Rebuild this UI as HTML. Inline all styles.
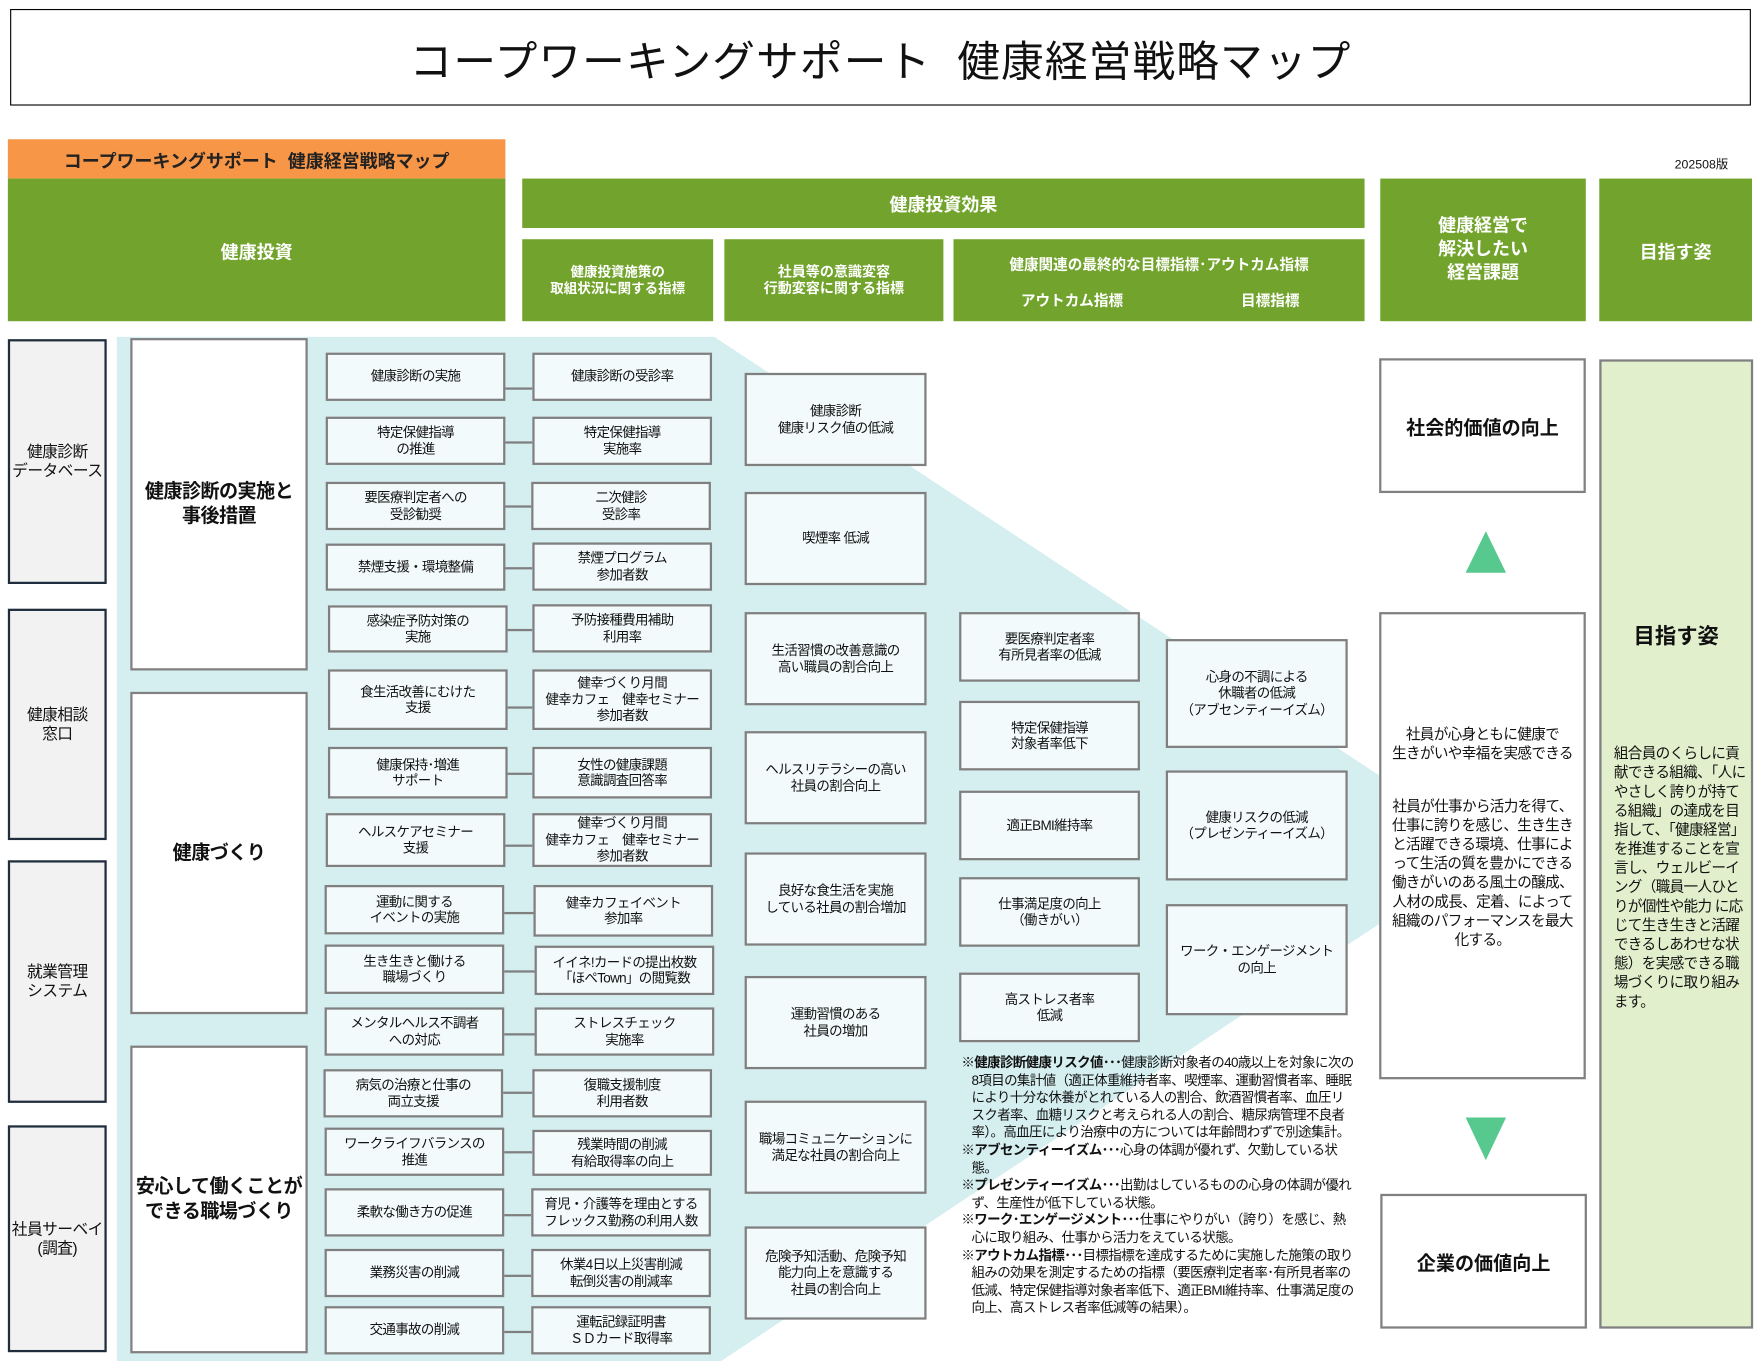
<!DOCTYPE html>
<html><head><meta charset="utf-8">
<style>
html,body{margin:0;padding:0;background:#fff;overflow:hidden;width:1761px;height:1361px}
#w{position:absolute;left:0;top:0;width:1568px;height:1212px;transform:scale(1.12309);transform-origin:0 0;font-family:"Liberation Sans","Noto Sans CJK JP",sans-serif;color:#111}
.a{position:absolute;box-sizing:border-box;display:flex;align-items:center;justify-content:center;text-align:center}
.g{background:#72A42D;color:#fff;font-weight:bold}
.sb{background:#F2F2F2;border:2px solid #1F2D3D;font-size:14px;line-height:17px;letter-spacing:-0.5px}
.wb{background:#fff;border:2px solid #808080;font-weight:bold;font-size:17px;line-height:22px;letter-spacing:-0.5px}
.r{background:#F3FAFB;border:2px solid #7F7F7F;font-size:12px;line-height:14.5px;letter-spacing:-0.6px}
.ln{position:absolute;height:2px;background:#7F7F7F}
</style></head><body><div id="w">
<svg style="position:absolute;left:0;top:0" width="1568" height="1212"><polygon points="104,300 636,300 1235,695 1235,818 642,1212 104,1212" fill="#D5EEF0"/>
<polygon points="1323,473 1341,510 1305,510" fill="#57C88E"/><polygon points="1305,995 1341,995 1323,1033" fill="#57C88E"/></svg>

<div class="a" style="left:9px;top:8px;width:1550px;height:86px;border:1px solid #000;font-size:38px;letter-spacing:1px">コープワーキングサポート&nbsp;&nbsp;健康経営戦略マップ</div>
<div class="a" style="left:7px;top:124px;width:443px;height:35px;background:#F79646;font-weight:bold;font-size:16px;color:#222">コープワーキングサポート&nbsp;&nbsp;健康経営戦略マップ</div>
<div class="a" style="left:1480px;top:138px;width:70px;height:16px;font-size:11px">202508版</div>
<div class="a g" style="left:7px;top:159px;width:443px;height:127px;font-size:16px">健康投資</div>
<div class="a g" style="left:465px;top:159px;width:750px;height:44px;font-size:16px">健康投資効果</div>
<div class="a g" style="left:465px;top:213px;width:170px;height:73px;font-size:12px;line-height:15px">健康投資施策の<br>取組状況に関する指標</div>
<div class="a g" style="left:645px;top:213px;width:195px;height:73px;font-size:12.5px;line-height:15px">社員等の意識変容<br>行動変容に関する指標</div>
<div class="a g" style="left:849px;top:213px;width:366px;height:73px;font-size:13px;display:block">
<div style="position:absolute;left:0;right:0;top:12px">健康関連の最終的な目標指標･アウトカム指標</div>
<div style="position:absolute;left:60px;top:44px">アウトカム指標</div>
<div style="position:absolute;left:256px;top:44px">目標指標</div></div>
<div class="a g" style="left:1229px;top:159px;width:183px;height:127px;font-size:16px;line-height:21px">健康経営で<br>解決したい<br>経営課題</div>
<div class="a g" style="left:1424px;top:159px;width:136px;height:127px;font-size:16px">目指す姿</div>

<div class="a sb" style="left:7px;top:302px;width:88px;height:218px">健康診断<br>データベース</div>
<div class="a sb" style="left:7px;top:542px;width:88px;height:206px">健康相談<br>窓口</div>
<div class="a sb" style="left:7px;top:766px;width:88px;height:216px">就業管理<br>システム</div>
<div class="a sb" style="left:7px;top:1002px;width:88px;height:202px">社員サーベイ<br>(調査)</div>

<div class="a wb" style="left:116px;top:301px;width:158px;height:296px">健康診断の実施と<br>事後措置</div>
<div class="a wb" style="left:116px;top:616px;width:158px;height:287px">健康づくり</div>
<div class="a wb" style="left:116px;top:931px;width:158px;height:274px">安心して働くことが<br>できる職場づくり</div>

<div class="a r" style="left:290px;top:314px;width:160px;height:43px">健康診断の実施</div><div class="ln" style="left:450px;top:345px;width:24px"></div><div class="a r" style="left:474px;top:314px;width:160px;height:43px">健康診断の受診率</div>
<div class="a r" style="left:290px;top:371px;width:160px;height:43px">特定保健指導<br>の推進</div><div class="ln" style="left:450px;top:393px;width:24px"></div><div class="a r" style="left:474px;top:371px;width:160px;height:43px">特定保健指導<br>実施率</div>
<div class="a r" style="left:290px;top:429px;width:160px;height:43px">要医療判定者への<br>受診勧奨</div><div class="ln" style="left:450px;top:450px;width:24px"></div><div class="a r" style="left:473px;top:429px;width:160px;height:43px">二次健診<br>受診率</div>
<div class="a r" style="left:290px;top:484px;width:160px;height:42px">禁煙支援・環境整備</div><div class="ln" style="left:450px;top:505px;width:24px"></div><div class="a r" style="left:474px;top:483px;width:160px;height:43px">禁煙プログラム<br>参加者数</div>
<div class="a r" style="left:292px;top:539px;width:160px;height:42px">感染症予防対策の<br>実施</div><div class="ln" style="left:452px;top:560px;width:22px"></div><div class="a r" style="left:474px;top:538px;width:160px;height:43px">予防接種費用補助<br>利用率</div>
<div class="a r" style="left:292px;top:596px;width:160px;height:54px">食生活改善にむけた<br>支援</div><div class="ln" style="left:452px;top:629px;width:22px"></div><div class="a r" style="left:474px;top:596px;width:160px;height:54px">健幸づくり月間<br>健幸カフェ　健幸セミナー<br>参加者数</div>
<div class="a r" style="left:292px;top:665px;width:160px;height:46px">健康保持･増進<br>サポート</div><div class="ln" style="left:452px;top:688px;width:22px"></div><div class="a r" style="left:474px;top:665px;width:160px;height:46px">女性の健康課題<br>意識調査回答率</div>
<div class="a r" style="left:290px;top:724px;width:160px;height:48px">ヘルスケアセミナー<br>支援</div><div class="ln" style="left:450px;top:752px;width:24px"></div><div class="a r" style="left:474px;top:724px;width:160px;height:48px">健幸づくり月間<br>健幸カフェ　健幸セミナー<br>参加者数</div>
<div class="a r" style="left:289px;top:788px;width:160px;height:44px">運動に関する<br>イベントの実施</div><div class="ln" style="left:449px;top:812px;width:26px"></div><div class="a r" style="left:475px;top:788px;width:160px;height:46px">健幸カフェイベント<br>参加率</div>
<div class="a r" style="left:289px;top:841px;width:160px;height:44px">生き生きと働ける<br>職場づくり</div><div class="ln" style="left:449px;top:864px;width:27px"></div><div class="a r" style="left:476px;top:842px;width:160px;height:44px">イイネ!カードの提出枚数<br>「ほぺTown」の閲覧数</div>
<div class="a r" style="left:289px;top:897px;width:160px;height:43px">メンタルヘルス不調者<br>への対応</div><div class="ln" style="left:449px;top:920px;width:27px"></div><div class="a r" style="left:476px;top:897px;width:160px;height:43px">ストレスチェック<br>実施率</div>
<div class="a r" style="left:288px;top:952px;width:160px;height:43px">病気の治療と仕事の<br>両立支援</div><div class="ln" style="left:448px;top:972px;width:26px"></div><div class="a r" style="left:474px;top:952px;width:160px;height:43px">復職支援制度<br>利用者数</div>
<div class="a r" style="left:289px;top:1004px;width:160px;height:43px">ワークライフバランスの<br>推進</div><div class="ln" style="left:449px;top:1025px;width:25px"></div><div class="a r" style="left:474px;top:1006px;width:160px;height:41px">残業時間の削減<br>有給取得率の向上</div>
<div class="a r" style="left:289px;top:1058px;width:160px;height:43px">柔軟な働き方の促進</div><div class="ln" style="left:449px;top:1081px;width:24px"></div><div class="a r" style="left:473px;top:1058px;width:160px;height:43px">育児・介護等を理由とする<br>フレックス勤務の利用人数</div>
<div class="a r" style="left:289px;top:1112px;width:160px;height:43px">業務災害の削減</div><div class="ln" style="left:449px;top:1135px;width:24px"></div><div class="a r" style="left:473px;top:1112px;width:160px;height:43px">休業4日以上災害削減<br>転倒災害の削減率</div>
<div class="a r" style="left:289px;top:1163px;width:160px;height:43px">交通事故の削減</div><div class="ln" style="left:449px;top:1185px;width:24px"></div><div class="a r" style="left:473px;top:1163px;width:160px;height:43px">運転記録証明書<br>ＳＤカード取得率</div>

<div class="a r" style="left:663px;top:332px;width:162px;height:83px">健康診断<br>健康リスク値の低減</div>
<div class="a r" style="left:663px;top:438px;width:162px;height:83px">喫煙率 低減</div>
<div class="a r" style="left:663px;top:545px;width:162px;height:83px">生活習慣の改善意識の<br>高い職員の割合向上</div>
<div class="a r" style="left:663px;top:651px;width:162px;height:83px">ヘルスリテラシーの高い<br>社員の割合向上</div>
<div class="a r" style="left:663px;top:759px;width:162px;height:83px">良好な食生活を実施<br>している社員の割合増加</div>
<div class="a r" style="left:663px;top:869px;width:162px;height:83px">運動習慣のある<br>社員の増加</div>
<div class="a r" style="left:663px;top:980px;width:162px;height:83px">職場コミュニケーションに<br>満足な社員の割合向上</div>
<div class="a r" style="left:663px;top:1092px;width:162px;height:83px">危険予知活動、危険予知<br>能力向上を意識する<br>社員の割合向上</div>

<div class="a r" style="left:854px;top:545px;width:161px;height:62px">要医療判定者率<br>有所見者率の低減</div>
<div class="a r" style="left:854px;top:624px;width:161px;height:62px">特定保健指導<br>対象者率低下</div>
<div class="a r" style="left:854px;top:704px;width:161px;height:62px">適正BMI維持率</div>
<div class="a r" style="left:854px;top:781px;width:161px;height:62px">仕事満足度の向上<br>（働きがい）</div>
<div class="a r" style="left:854px;top:866px;width:161px;height:62px">高ストレス者率<br>低減</div>

<div class="a r" style="left:1038px;top:569px;width:162px;height:97px">心身の不調による<br>休職者の低減<br>（アブセンティーイズム）</div>
<div class="a r" style="left:1038px;top:686px;width:162px;height:98px">健康リスクの低減<br>（プレゼンティーイズム）</div>
<div class="a r" style="left:1038px;top:805px;width:162px;height:99px">ワーク・エンゲージメント<br>の向上</div>

<div style="position:absolute;left:856px;top:939px;width:350px;font-size:12px;line-height:15.6px;letter-spacing:-0.55px;padding-left:9px;text-indent:-9px;box-sizing:border-box">
<div>※<b>健康診断健康リスク値･･･</b>健康診断対象者の40歳以上を対象に次の8項目の集計値（適正体重維持者率、喫煙率、運動習慣者率、睡眠により十分な休養がとれている人の割合、飲酒習慣者率、血圧リスク者率、血糖リスクと考えられる人の割合、糖尿病管理不良者率）。高血圧により治療中の方については年齢問わずで別途集計。</div>
<div>※<b>アブセンティーイズム･･･</b>心身の体調が優れず、欠勤している状態。</div>
<div>※<b>プレゼンティーイズム･･･</b>出勤はしているものの心身の体調が優れず、生産性が低下している状態。</div>
<div>※<b>ワーク･エンゲージメント･･･</b>仕事にやりがい（誇り）を感じ、熱心に取り組み、仕事から活力をえている状態。</div>
<div>※<b>アウトカム指標･･･</b>目標指標を達成するために実施した施策の取り組みの効果を測定するための指標（要医療判定者率･有所見者率の低減、特定保健指導対象者率低下、適正BMI維持率、仕事満足度の向上、高ストレス者率低減等の結果）。</div>
</div>

<div class="a" style="left:1228px;top:319px;width:184px;height:120px;border:2px solid #808080;background:#fff;font-weight:bold;font-size:17px">社会的価値の向上</div>
<div class="a" style="left:1228px;top:545px;width:184px;height:416px;border:2px solid #808080;background:#fff;font-size:13px;line-height:17px;letter-spacing:-0.6px;flex-direction:column;padding:0 4px"><div style="margin-top:-16px">社員が心身ともに健康で<br>生きがいや幸福を実感できる</div><div style="margin-top:30px">社員が仕事から活力を得て、仕事に誇りを感じ、生き生きと活躍できる環境、仕事によって生活の質を豊かにできる働きがいのある風土の醸成、人材の成長、定着、によって組織のパフォーマンスを最大化する。</div></div>
<div class="a" style="left:1229px;top:1063px;width:184px;height:120px;border:2px solid #808080;background:#fff;font-weight:bold;font-size:17px">企業の価値向上</div>

<div style="position:absolute;left:1424px;top:320px;width:137px;height:863px;box-sizing:border-box;border:2px solid #808080;background:#E2EFCC">
<div style="position:absolute;left:0;right:0;top:230px;text-align:center;font-weight:bold;font-size:19px">目指す姿</div>
<div style="position:absolute;left:11px;right:4px;top:340px;font-size:13px;line-height:17px;letter-spacing:-0.6px">組合員のくらしに貢献できる組織、「人にやさしく誇りが持てる組織」の達成を目指して、「健康経営」を推進することを宣言し、ウェルビーイング（職員一人ひとりが個性や能力 に応じて生き生きと活躍できるしあわせな状態）を実感できる職場づくりに取り組みます。</div></div>
</div></body></html>
